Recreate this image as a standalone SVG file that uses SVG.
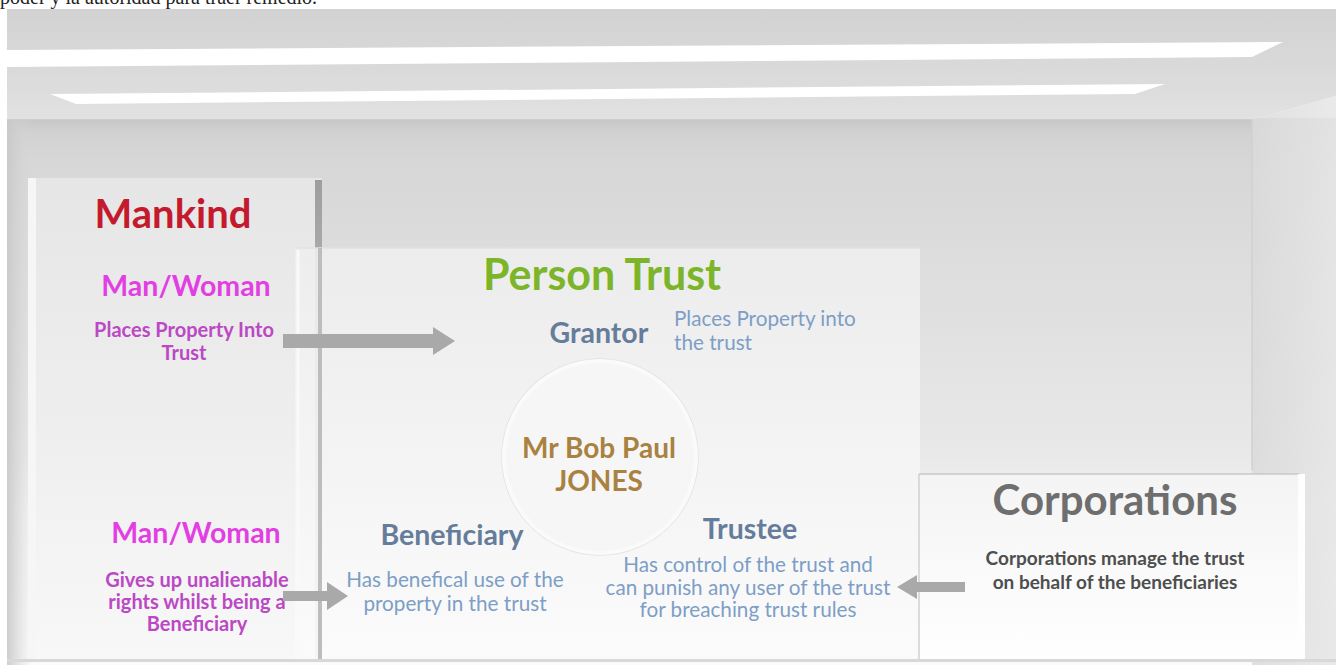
<svg xmlns="http://www.w3.org/2000/svg" width="1336" height="665" viewBox="0 0 1336 665">
  <defs>
    <linearGradient id="gCeil" x1="0" y1="0" x2="0" y2="1">
      <stop offset="0" stop-color="#d2d2d2"/>
      <stop offset="0.7" stop-color="#dcdcdc"/>
      <stop offset="1" stop-color="#e2e2e2"/>
    </linearGradient>
    <linearGradient id="gWall" x1="0" y1="0" x2="0" y2="1">
      <stop offset="0" stop-color="#cfcfcf"/>
      <stop offset="0.08" stop-color="#d7d7d7"/>
      <stop offset="0.45" stop-color="#e3e3e3"/>
      <stop offset="0.62" stop-color="#e9e9e9"/>
      <stop offset="0.72" stop-color="#f3f3f3"/>
      <stop offset="1" stop-color="#fbfbfb"/>
    </linearGradient>
    <linearGradient id="gRWall" x1="0" y1="0" x2="1" y2="0">
      <stop offset="0" stop-color="#dadada"/>
      <stop offset="1" stop-color="#e6e6e6"/>
    </linearGradient>
    <linearGradient id="gLWall" x1="0" y1="0" x2="1" y2="0">
      <stop offset="0" stop-color="#c8c8c8" stop-opacity="0.9"/>
      <stop offset="1" stop-color="#d8d8d8" stop-opacity="0"/>
    </linearGradient>
    <linearGradient id="gPanelL" x1="0" y1="0" x2="0" y2="1">
      <stop offset="0" stop-color="#e6e6e6"/>
      <stop offset="0.5" stop-color="#eeeeee"/>
      <stop offset="1" stop-color="#f8f8f8"/>
    </linearGradient>
    <linearGradient id="gPanelM" x1="0" y1="0" x2="0" y2="1">
      <stop offset="0" stop-color="#eeeeee"/>
      <stop offset="1" stop-color="#fbfbfb"/>
    </linearGradient>
    <linearGradient id="gPanelR" x1="0" y1="0" x2="0" y2="1">
      <stop offset="0" stop-color="#f4f4f4"/>
      <stop offset="1" stop-color="#ffffff"/>
    </linearGradient>
    <linearGradient id="gEdge" x1="0" y1="0" x2="0" y2="1">
      <stop offset="0" stop-color="#9e9e9e"/>
      <stop offset="0.3" stop-color="#b4b4b4"/>
      <stop offset="1" stop-color="#c4c4c4"/>
    </linearGradient>
    <linearGradient id="gBand" x1="0" y1="0" x2="0" y2="1">
      <stop offset="0" stop-color="#c4c4c4" stop-opacity="0.7"/>
      <stop offset="1" stop-color="#c4c4c4" stop-opacity="0"/>
    </linearGradient>
    <style>
      .t { font-family: Lato, "Open Sans", "Liberation Sans", sans-serif; text-anchor: middle; }
      .b { font-weight: 700; }
      .title { font-weight: 700; }
      .mw { font-size: 28.5px; font-weight: 700; fill: #e23fe3; }
      .mwd { font-size: 20px; font-weight: 700; fill: #bb48c4; }
      .role { font-size: 28.5px; font-weight: 700; fill: #657d9b; }
      .desc { font-size: 20.7px; fill: #7d9ec6; }
      .arrow { fill: #a9a9a9; }
    </style>
  </defs>

  <!-- scene -->
  <g id="scene">
    <rect x="0" y="0" width="1336" height="665" fill="#ffffff"/>
    <text x="0" y="4" style="font-family: 'Liberation Serif', serif; font-size: 20px; fill: #222;">poder y la autoridad para traer remedio.</text>
    <rect x="7" y="118" width="1329" height="547" fill="url(#gWall)"/>
    <polygon points="7,9 1336,9 1336,96 1252,120 7,120" fill="url(#gCeil)"/>
    <rect x="7" y="119" width="1245" height="14" fill="url(#gBand)"/>
    <polygon points="1252,120 1336,96 1336,665 1252,665" fill="url(#gRWall)" opacity="0.85"/>
    <line x1="1252" y1="120" x2="1252" y2="470" stroke="#d0d0d0" stroke-width="1.5"/>
    <rect x="7" y="120" width="26" height="545" fill="url(#gLWall)"/>
    <polygon points="7,50 1283,42 1252,57 7,67" fill="#ffffff"/>
    <polygon points="50,94 1165,84 1135,94 76,104" fill="#ffffff"/>
  </g>

  <!-- Mankind panel -->
  <g id="mankind">
    <rect x="28" y="178" width="294" height="484" fill="url(#gPanelL)"/>
    <rect x="28" y="178" width="8" height="484" fill="#f6f6f6"/>
    <rect x="315" y="180" width="7" height="482" fill="url(#gEdge)"/>
    <text class="t title" x="173" y="228" style="font-size:40px" fill="#c41a2e">Mankind</text>
  </g>

  <!-- Person Trust panel -->
  <g id="person-trust">
    <rect x="295" y="248" width="625" height="414" fill="url(#gPanelM)" opacity="0.9"/>
    <line x1="295" y1="248" x2="920" y2="248" stroke="#e2e2e2" stroke-width="1.5"/>
    <line x1="298" y1="250" x2="298" y2="662" stroke="#f9f9f9" stroke-width="3"/>
    <rect x="318" y="248" width="4" height="414" fill="#bdbdbd"/>
    <text class="t title" x="602" y="290" style="font-size:43px" fill="#7db52a">Person Trust</text>
  </g>

  <g id="man-woman-grantor">
    <text class="t mw" x="186" y="296">Man/Woman</text>
    <text class="t mwd" x="184" y="337">Places Property Into</text>
    <text class="t mwd" x="184" y="360">Trust</text>
  </g>

  <g id="man-woman-beneficiary">
    <text class="t mw" x="196" y="543">Man/Woman</text>
    <text class="t mwd" x="197" y="587">Gives up unalienable</text>
    <text class="t mwd" x="197" y="609">rights whilst being a</text>
    <text class="t mwd" x="197" y="631">Beneficiary</text>
  </g>

  <g id="grantor">
    <text class="t role" x="599" y="343">Grantor</text>
    <text class="t desc" x="674" y="326" style="text-anchor:start">Places Property into</text>
    <text class="t desc" x="674" y="350" style="text-anchor:start">the trust</text>
  </g>

  <g id="jones">
    <circle cx="600" cy="457" r="98" fill="none" stroke="#e2e2e2" stroke-width="1.5"/>
    <circle cx="600" cy="457" r="96" fill="#f6f6f6" stroke="#fafafa" stroke-width="4"/>
    <text class="t b" x="599" y="458" style="font-size:28px" fill="#a98141">Mr Bob Paul</text>
    <text class="t b" x="599" y="491" style="font-size:28px" fill="#a98141">JONES</text>
  </g>

  <g id="beneficiary">
    <text class="t role" x="452" y="545">Beneficiary</text>
    <text class="t desc" x="455" y="587">Has benefical use of the</text>
    <text class="t desc" x="455" y="611">property in the trust</text>
  </g>

  <g id="trustee">
    <text class="t role" x="750" y="539">Trustee</text>
    <text class="t desc" x="748" y="572">Has control of the trust and</text>
    <text class="t desc" x="748" y="595">can punish any user of the trust</text>
    <text class="t desc" x="748" y="617">for breaching trust rules</text>
  </g>

  <!-- Corporations panel -->
  <g id="corporations">
    <rect x="919" y="474" width="386" height="188" fill="url(#gPanelR)"/>
    <line x1="919" y1="474" x2="1300" y2="474" stroke="#c9c9c9" stroke-width="1.5"/>
    <line x1="919" y1="474" x2="919" y2="662" stroke="#d0d0d0" stroke-width="1.5"/>
    <rect x="1298" y="474" width="7" height="188" fill="#fefefe"/>
    <text class="t" x="1115" y="515" style="font-size:42px;font-weight:700" fill="#6e6e6e">Corporations</text>
    <text class="t b" x="1115" y="565" style="font-size:19px" fill="#4e4e4e">Corporations manage the trust</text>
    <text class="t b" x="1115" y="589" style="font-size:19px" fill="#4e4e4e">on behalf of the beneficiaries</text>
  </g>

  <rect x="7" y="659" width="1329" height="3" fill="#d8d8d8"/>

  <!-- connectors -->
  <g id="connectors">
    <polygon class="arrow" points="283,334 433,334 433,327 455,341 433,355 433,348 283,348"/>
    <polygon class="arrow" points="283,591 327,591 327,582 348,596 327,610 327,601 283,601"/>
    <polygon class="arrow" points="965,582 917,582 917,575 897,587 917,599 917,592 965,592"/>
  </g>
</svg>
